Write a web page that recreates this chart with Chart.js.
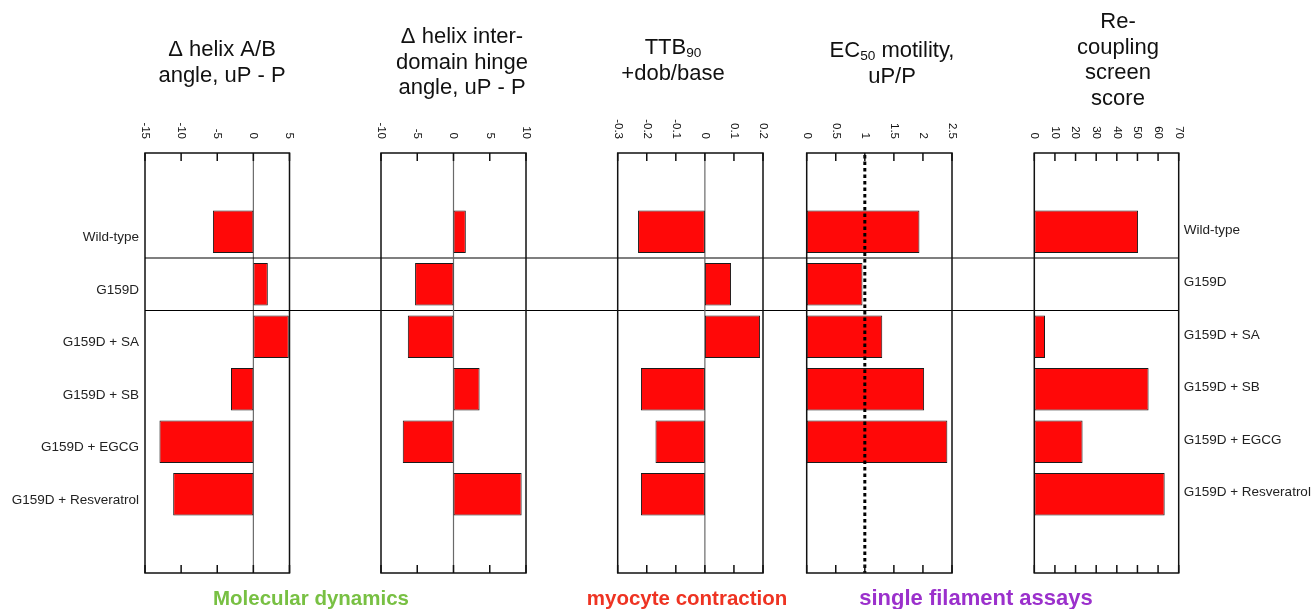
<!DOCTYPE html>
<html>
<head>
<meta charset="utf-8">
<script src="https://cdn.jsdelivr.net/npm/chart.js@4.4.1/dist/chart.umd.min.js"></script>
<style>
  html, body { margin: 0; padding: 0; background: #fff; }
  #wrap { position: relative; width: 1312px; height: 609px; }
  #wrap canvas { position: absolute; left: 0; top: 0; }
</style>
</head>
<body>
<div id="wrap">
  <canvas id="p1" width="1312" height="609"></canvas>
  <canvas id="p2" width="1312" height="609"></canvas>
  <canvas id="p3" width="1312" height="609"></canvas>
  <canvas id="p4" width="1312" height="609"></canvas>
  <canvas id="p5" width="1312" height="609"></canvas>
</div>
<script>
// data
const categories = ["Wild-type", "G159D", "G159D + SA", "G159D + SB", "G159D + EGCG", "G159D + Resveratrol"];
const helixAB    = [-5.6, 2.0, 4.9, -3.1, -13.0, -11.1];
const hingeAngle = [1.7, -5.3, -6.3, 3.6, -7.0, 9.4];
const ttb90      = [-0.23, 0.09, 0.19, -0.22, -0.17, -0.22];
const ec50       = [1.94, 0.96, 1.30, 2.02, 2.42, null];
const recoupling = [50.3, null, 5.2, 55.4, 23.4, 63.2];

const ticksAB    = [-15, -10, -5, 0, 5];
const ticksHinge = [-10, -5, 0, 5, 10];
const ticksTTB   = [-0.3, -0.2, -0.1, 0, 0.1, 0.2];
const ticksEC50  = [0, 0.5, 1, 1.5, 2, 2.5];
const ticksScore = [0, 10, 20, 30, 40, 50, 60, 70];

const groupLabels = ["Molecular dynamics", "myocyte contraction", "single filament assays"];

const W = 1312, H = 609;
const TOP = 153, BOTTOM = 573;
const FONT = '"Liberation Sans", Arial, Helvetica, sans-serif';

const panels = [
  { id: "p1", values: helixAB, ticks: ticksAB, min: -15, max: 5, left: 145, right: 289.5,
    title: ["Δ helix A/B", "angle, uP - P"], titleX: 222, titleY: 50, zeroLine: true, leftLabels: true },
  { id: "p2", values: hingeAngle, ticks: ticksHinge, min: -10, max: 10, left: 381, right: 526,
    title: ["Δ helix inter-", "domain hinge", "angle, uP - P"], titleX: 462, titleY: 37, zeroLine: true },
  { id: "p3", values: ttb90, ticks: ticksTTB, min: -0.3, max: 0.2, left: 617.7, right: 763,
    title: ["TTB_{90}", "+dob/base"], titleX: 673, titleY: 48, zeroLine: true },
  { id: "p4", values: ec50, ticks: ticksEC50, min: 0, max: 2.5, left: 806.7, right: 952,
    title: ["EC_{50} motility,", "uP/P"], titleX: 892, titleY: 51, refLine: 1 },
  { id: "p5", values: recoupling, ticks: ticksScore, min: 0, max: 70, left: 1034.3, right: 1178.7,
    title: ["Re-", "coupling", "screen", "score"], titleX: 1118, titleY: 22, rightLabels: true }
];

const groups = [
  { x: 311, color: "#78C043", size: 20.5 },
  { x: 687, color: "#EE3322", size: 20.5 },
  { x: 976, color: "#9B30CC", size: 22 }
];

// draw a title line that may hold a subscript written as _{..}
function drawRich(ctx, text, cx, cy, size) {
  const parts = text.split(/(_\{[^}]*\})/).filter(s => s.length);
  const segs = parts.map(s => s.startsWith("_{")
    ? { t: s.slice(2, -1), sub: true } : { t: s, sub: false });
  let total = 0;
  segs.forEach(s => {
    ctx.font = (s.sub ? size * 0.62 : size) + "px " + FONT;
    s.w = ctx.measureText(s.t).width;
    total += s.w;
  });
  let x = cx - total / 2;
  segs.forEach(s => {
    ctx.font = (s.sub ? size * 0.62 : size) + "px " + FONT;
    ctx.fillText(s.t, x, s.sub ? cy + size * 0.22 : cy);
    x += s.w;
  });
}

function makeDecor(p) {
  return {
    id: "decor_" + p.id,
    beforeDatasetsDraw(chart) {
      const { ctx, chartArea: a, scales: { x } } = chart;
      if (p.zeroLine) {
        const px = x.getPixelForValue(0);
        ctx.save();
        ctx.strokeStyle = "#6a6a6a";
        ctx.lineWidth = 1.2;
        ctx.beginPath();
        ctx.moveTo(px, a.top);
        ctx.lineTo(px, a.bottom);
        ctx.stroke();
        ctx.restore();
      }
    },
    afterDatasetsDraw(chart) {
      const { ctx, chartArea: a, scales: { x, y } } = chart;
      ctx.save();

      // dotted reference line
      if (p.refLine !== undefined) {
        const px = x.getPixelForValue(p.refLine);
        ctx.strokeStyle = "#000";
        ctx.lineWidth = 3;
        ctx.setLineDash([3.5, 3]);
        ctx.beginPath();
        ctx.moveTo(px, a.top + 2);
        ctx.lineTo(px, a.bottom);
        ctx.stroke();
        ctx.setLineDash([]);
      }

      // frame
      ctx.strokeStyle = "#111";
      ctx.lineWidth = 1.5;
      ctx.strokeRect(a.left, a.top, a.right - a.left, a.bottom - a.top);

      // tick marks top and bottom, rotated labels above
      ctx.fillStyle = "#111";
      ctx.font = "11.5px " + FONT;
      ctx.textAlign = "right";
      ctx.textBaseline = "middle";
      p.ticks.forEach(v => {
        const px = x.getPixelForValue(v);
        ctx.beginPath();
        ctx.moveTo(px, a.top);
        ctx.lineTo(px, a.top + 8);
        ctx.moveTo(px, a.bottom);
        ctx.lineTo(px, a.bottom - 8);
        ctx.stroke();
        ctx.save();
        ctx.translate(px, a.top - 14);
        ctx.rotate(Math.PI / 2);
        ctx.fillText(String(v), 0, 0);
        ctx.restore();
      });

      // title
      ctx.fillStyle = "#111";
      ctx.textAlign = "left";
      p.title.forEach((line, i) => drawRich(ctx, line, p.titleX, p.titleY + i * 25.5, 22));

      // category labels
      ctx.font = "13.5px " + FONT;
      ctx.fillStyle = "#222";
      if (p.leftLabels) {
        ctx.textAlign = "right";
        categories.forEach((c, i) => ctx.fillText(c, a.left - 6, y.getPixelForValue(i) + 6));
      }
      if (p.rightLabels) {
        ctx.textAlign = "left";
        categories.forEach((c, i) => ctx.fillText(c, a.right + 5, y.getPixelForValue(i) - 1.5));
      }

      ctx.restore();
    },
    afterDraw(chart) {
      if (!p.leftLabels) return;
      const { ctx, chartArea: a, scales: { y } } = chart;
      ctx.save();
      // separators around the G159D row, across all panels
      ctx.strokeStyle = "#000";
      ctx.lineWidth = 1.2;
      [0.5, 1.5].forEach(v => {
        const py = y.getPixelForValue(v);
        ctx.beginPath();
        ctx.moveTo(a.left, py);
        ctx.lineTo(panels[panels.length - 1].right, py);
        ctx.stroke();
      });
      // group captions under the panels
      ctx.textAlign = "center";
      ctx.textBaseline = "middle";
      groupLabels.forEach((g, i) => {
        ctx.font = "bold " + groups[i].size + "px " + FONT;
        ctx.fillStyle = groups[i].color;
        ctx.fillText(g, groups[i].x, 599);
      });
      ctx.restore();
    }
  };
}

panels.forEach(p => {
  const pts = p.values.map((v, i) => ({ x: v, y: i })).filter(d => d.x !== null);
  new Chart(document.getElementById(p.id), {
    type: "bar",
    data: {
      datasets: [{
        data: pts,
        backgroundColor: "#FF0808",
        borderColor: "#1a1a1a",
        borderWidth: 1,
        borderSkipped: false,
        categoryPercentage: 1,
        barPercentage: 0.81
      }]
    },
    options: {
      indexAxis: "y",
      responsive: false,
      animation: false,
      devicePixelRatio: 1,
      layout: { padding: { left: p.left, right: W - p.right, top: TOP, bottom: H - BOTTOM } },
      scales: {
        x: { type: "linear", min: p.min, max: p.max, display: false },
        y: {
          type: "linear", reverse: true, offset: false, min: -1.5, max: 6.5, display: false,
          afterBuildTicks: s => { s.ticks = categories.map((c, i) => ({ value: i })); }
        }
      },
      plugins: { legend: { display: false }, tooltip: { enabled: false } }
    },
    plugins: [makeDecor(p)]
  });
});
</script>
</body>
</html>
